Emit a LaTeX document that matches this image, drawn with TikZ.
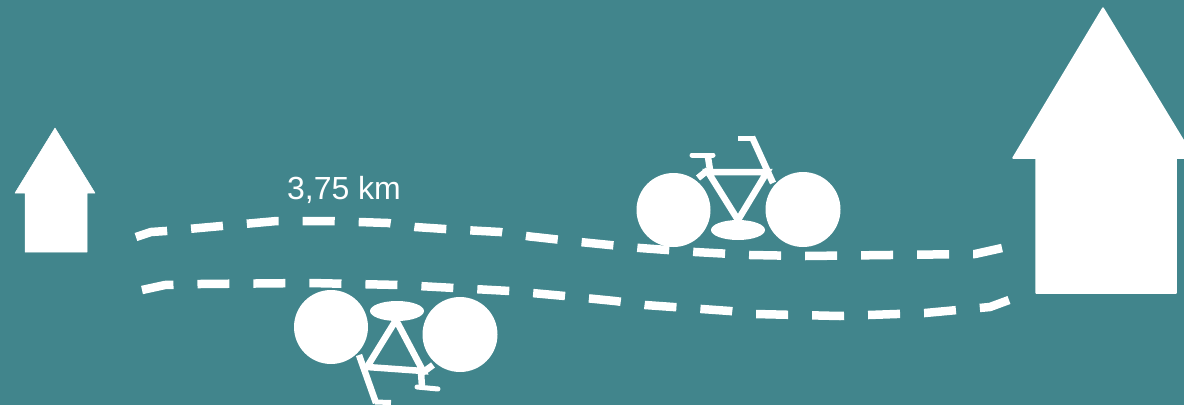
\documentclass[tikz,border=0pt]{standalone}
\usepackage{fontspec}
\setmainfont{Liberation Sans}
\definecolor{teal}{HTML}{41858C}
\tikzset{
  route/.style={draw=white,line width=8.5pt,dash pattern=on 32pt off 24pt,line join=round},
  wheel/.style={fill=white},
  bar/.style={draw=white,line width=6.5pt,line join=miter},
  thin/.style={draw=white,line width=5pt,line cap=round},
  house/.style={fill=white,draw=white,line width=1.5pt,line join=round}
}
\begin{document}
\begin{tikzpicture}[x=1pt,y=-1pt]
\clip (0,0) rectangle (1184,405);
\useasboundingbox (0,0) rectangle (1184,405);
\fill[teal] (0,0) rectangle (1184,405);
% small house
\draw[house,line width=0.5pt] (55,128) -- (95,193) -- (87,193) -- (87,252) -- (25,252) -- (25,193) -- (15,193) -- cycle;
% large house
\draw[house] (1103,8) -- (1194,158) -- (1176,158) -- (1176,293) -- (1036,293) -- (1036,158) -- (1013,158) -- cycle;
% routes
\draw[route] (136,237) -- (151,232) -- (166,231) -- (277,221) -- (330,221) -- (388,223) -- (415,227) -- (445,229) -- (500,232) -- (530,236.5) -- (580,242) -- (640,248) -- (695,252) -- (750,255) -- (805,256) -- (890,255) -- (975,254) -- (1002,248);
\draw[route] (142,290) -- (165,285) -- (200,284) -- (310,283) -- (400,285) -- (510,291) -- (565,296) -- (615,301) -- (645,305) -- (730,311) -- (755,314) -- (840,316) -- (925,313) -- (990,307) -- (1009,300);
% upper bicycle
\fill[wheel] (673.5,210) circle (37);
\fill[wheel] (803,209.5) circle (37.5);
\fill[wheel] (738,230) ellipse (27 and 10);
\draw[bar] (708,172) -- (767,172) -- (738,220) -- cycle;
\draw[bar] (708,157) -- (710,170);
\draw[thin] (692,155) -- (713,155);
\draw[bar] (698,178) -- (708,170);
\draw[bar] (752,137) -- (773,183);
\draw[bar,line width=5pt] (738,138) -- (754,138);
% lower bicycle
\fill[wheel] (331,327) circle (37);
\fill[wheel] (460,334.5) circle (37.5);
\fill[wheel] (397,311) ellipse (27 and 10);
\draw[bar] (396,320) -- (423,371) -- (367,367) -- cycle;
\draw[bar] (359,355) -- (376,403);
\draw[bar,line width=5pt] (375,402) -- (391,402.5);
\draw[bar] (433,365) -- (422,373);
\draw[bar] (421,372) -- (422,387);
\draw[thin] (417,387) -- (438,389);
% label
\node[text=white,font=\fontsize{32pt}{34pt}\selectfont,inner sep=0pt] (dist) at (344,190) {3,75 km};
\end{tikzpicture}
\end{document}
